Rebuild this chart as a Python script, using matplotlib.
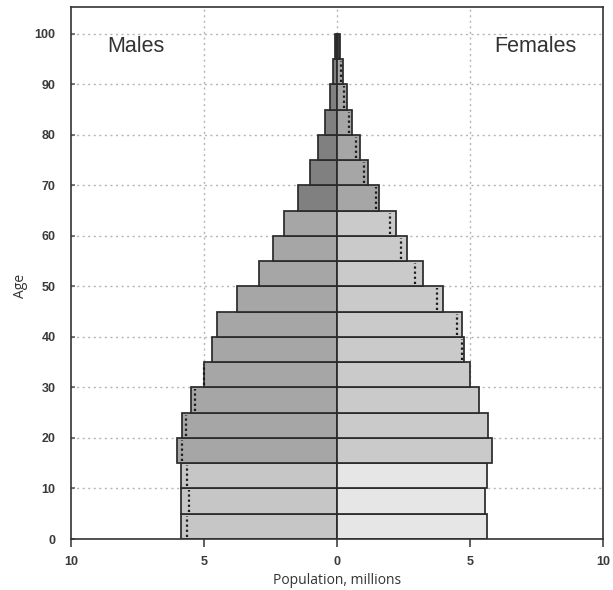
import matplotlib
matplotlib.use("Agg")
import matplotlib.pyplot as plt

# age groups (lower bound of each 5-year band)
ages = [0, 5, 10, 15, 20, 25, 30, 35, 40, 45, 50, 55, 60, 65, 70, 75, 80, 85, 90, 95]
# population, millions
males = [5.88, 5.85, 5.88, 6.00, 5.81, 5.49, 5.00, 4.71, 4.52, 3.77,
         2.92, 2.39, 1.99, 1.47, 1.02, 0.73, 0.45, 0.27, 0.15, 0.08]
females = [5.65, 5.56, 5.63, 5.84, 5.69, 5.34, 5.00, 4.77, 4.71, 4.00,
           3.22, 2.62, 2.22, 1.59, 1.15, 0.86, 0.57, 0.37, 0.22, 0.12]

x_ticks = [-10, -5, 0, 5, 10]
x_tick_labels = ["10", "5", "0", "5", "10"]
y_ticks = list(range(0, 101, 10))


def group_color(age, young, mid, old, oldest):
    if age < 15:
        return young
    if age < 65:
        return mid
    if age < 95:
        return old
    return oldest


male_colors = [group_color(a, "#c6c6c6", "#a6a6a6", "#808080", "#3a3a3a") for a in ages]
female_colors = [group_color(a, "#e6e6e6", "#cacaca", "#a6a6a6", "#3a3a3a") for a in ages]

fig = plt.figure(figsize=(6.13, 5.90), dpi=100)
ax = fig.add_axes([71 / 613, 51 / 590, 532 / 613, 532 / 590])

# grid
for y in y_ticks[1:]:
    ax.axhline(y, color="#b5b5b5", lw=1.0, ls=(0, (1.5, 2.5)), zorder=0)
for x in [-5, 0, 5]:
    ax.axvline(x, color="#b5b5b5", lw=1.0, ls=(0, (1.5, 2.5)), zorder=0)

edge = "#2a2a2a"
ax.barh(ages, [-m for m in males], height=5, align="edge",
        color=male_colors, edgecolor=edge, linewidth=1.25, zorder=2)
ax.barh(ages, females, height=5, align="edge",
        color=female_colors, edgecolor=edge, linewidth=1.25, zorder=2)

# dotted marks: the other sex's value, drawn inside the larger bar
for a, m, f in zip(ages[:-1], males[:-1], females[:-1]):
    if f <= m:
        xd = -f
    else:
        xd = m
    ax.plot([xd, xd], [a + 0.4, a + 4.6], color="#1a1a1a", lw=1.6,
            ls=(0, (1, 1.3)), zorder=3)

ax.set_xlim(-10, 10)
ax.set_ylim(0, 105.3)
ax.set_xticks(x_ticks)
ax.set_xticklabels(x_tick_labels)
ax.set_yticks(y_ticks)

for s in ax.spines.values():
    s.set_color("#333333")
    s.set_linewidth(1.2)

ax.tick_params(axis="x", direction="out", length=6, width=1.1, color="#333333",
               pad=6, labelsize=9, labelcolor="#3a3a3a")
ax.tick_params(axis="y", direction="in", length=3, width=1.1, color="#555555",
               pad=11, labelsize=9, labelcolor="#3a3a3a")
for lab in ax.get_xticklabels() + ax.get_yticklabels():
    lab.set_fontfamily("Liberation Sans")
    lab.set_fontweight("bold")

ax.text(-8.62, 97.4, "Males", fontsize=15.5, family="Liberation Sans",
        color="#333333", ha="left", va="center")
ax.text(9.0, 97.4, "Females", fontsize=15.5, family="Liberation Sans",
        color="#333333", ha="right", va="center")

fig.text(337 / 613, 1 - 581 / 590, "Population, millions", fontsize=10,
         family="Open Sans", color="#333333", ha="center", va="center")
fig.text(21 / 613, 1 - 286 / 590, "Age", fontsize=10, family="Open Sans",
         color="#333333", ha="center", va="center", rotation=90)

fig.savefig("out.png", dpi=100)
